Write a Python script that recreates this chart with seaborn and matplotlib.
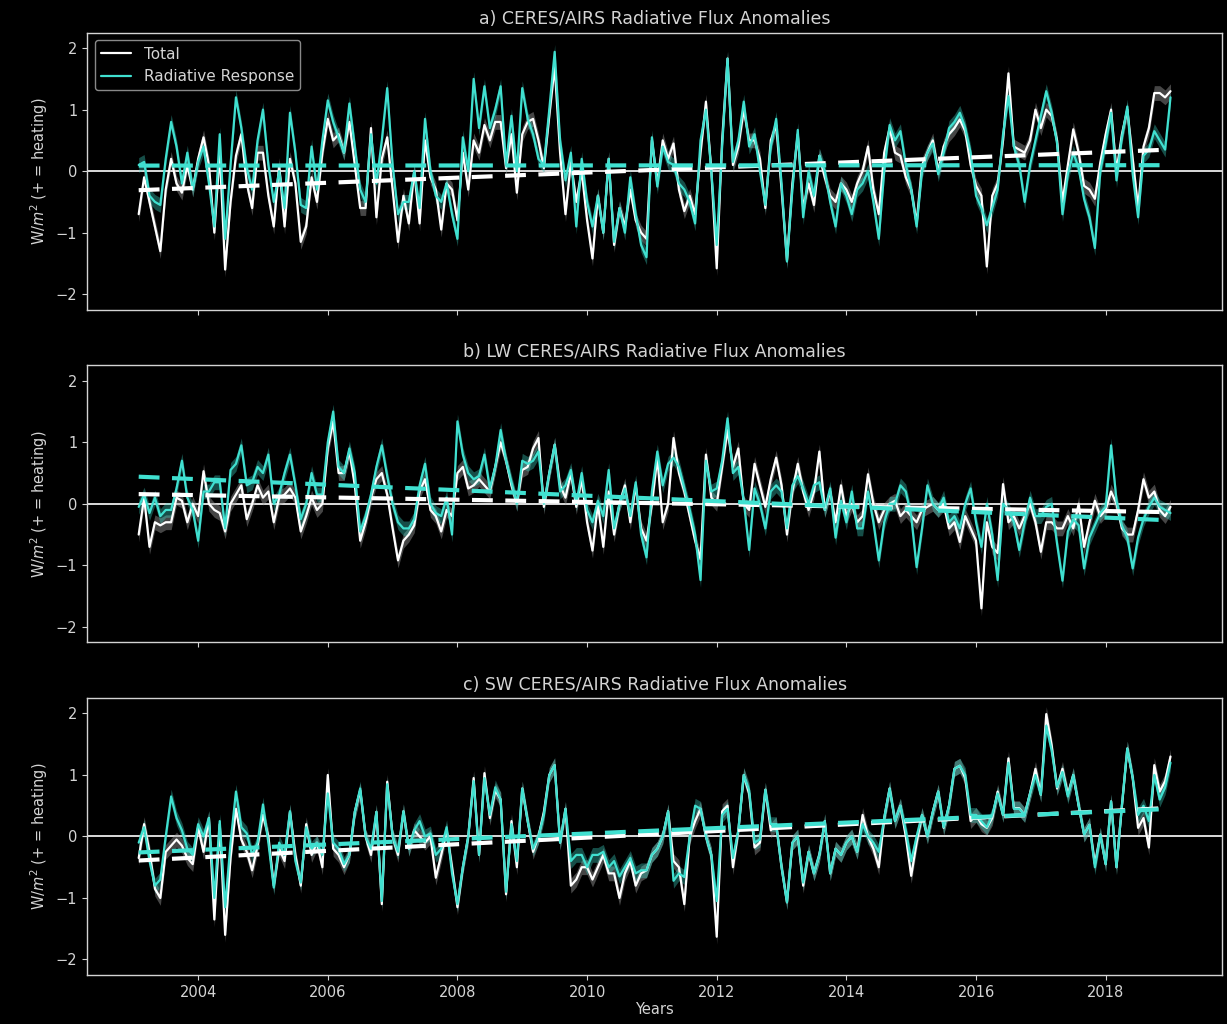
import numpy as np
import pandas as pd
import matplotlib
matplotlib.use("Agg")
import matplotlib.pyplot as plt
import seaborn as sns

# ---------------- data (monthly anomalies, Feb 2003 .. Jan 2019) ----------------
n_months = 192
start_year = 2003 + 1 / 12

titles = ["a) CERES/AIRS Radiative Flux Anomalies",
          "b) LW CERES/AIRS Radiative Flux Anomalies",
          "c) SW CERES/AIRS Radiative Flux Anomalies"]

total_a = [
    -0.7, -0.1, -0.5, -0.9, -1.3, -0.3, 0.2, -0.2, -0.35, 0.1, -0.3, 0.2,
    0.55, 0.1, -1.0, 0.3, -1.6, -0.5, 0.25, 0.6, -0.2, -0.6, 0.3, 0.3,
    -0.4, -0.9, 0.1, -0.9, 0.2, -0.2, -1.15, -0.9, -0.1, -0.5, 0.3, 0.85,
    0.5, 0.6, 0.3, 0.8, 0.1, -0.6, -0.6, 0.7, -0.75, 0.2, 0.55, -0.3,
    -1.15, -0.4, -0.85, 0.0, -0.85, 0.5, -0.1, -0.3, -0.95, -0.2, -0.3, -0.8,
    0.3, -0.3, 0.5, 0.3, 0.75, 0.5, 0.8, 0.8, 0.05, 0.6, -0.35, 0.6,
    0.8, 0.85, 0.5, 0.05, 0.9, 1.7, 0.3, -0.7, 0.15, -0.5, 0.0, -0.8,
    -1.42, -0.4, -1.0, 0.2, -1.2, -0.6, -0.9, -0.3, -0.8, -1.0, -1.1, 0.5,
    -0.2, 0.5, 0.2, 0.45, -0.3, -0.65, -0.4, -0.7, 0.3, 1.13, 0.0, -1.58,
    0.5, 1.83, 0.1, 0.4, 1.0, 0.5, 0.5, 0.2, -0.6, 0.5, 0.75, -0.3,
    -1.45, -0.2, 0.6, -0.6, -0.2, -0.55, 0.25, -0.1, -0.4, -0.5, -0.2, -0.3,
    -0.5, -0.2, 0.0, 0.4, -0.3, -0.7, 0.3, 0.7, 0.3, 0.25, -0.1, -0.3,
    -0.85, 0.1, 0.3, 0.5, 0.0, 0.4, 0.6, 0.7, 0.84, 0.65, 0.1, -0.24,
    -0.4, -1.55, -0.4, -0.2, 0.5, 1.59, 0.4, 0.35, 0.3, 0.5, 1.0, 0.7,
    1.0, 0.9, 0.5, -0.5, 0.1, 0.68, 0.3, -0.24, -0.3, -0.45, 0.14, 0.6,
    1.0, 0.0, 0.6, 1.0, 0.2, -0.6, 0.4, 0.7, 1.27, 1.27, 1.2, 1.3]

resp_a = [
    0.1, 0.15, -0.4, -0.5, -0.55, 0.2, 0.8, 0.4, -0.2, 0.3, -0.3, 0.15,
    0.4, -0.2, -0.9, 0.6, -1.1, 0.1, 1.2, 0.7, 0.05, -0.3, 0.5, 1.0,
    0.1, -0.5, 0.0, -0.6, 0.95, 0.3, -0.55, -0.6, 0.4, -0.3, 0.5, 1.15,
    0.8, 0.55, 0.3, 1.1, 0.4, -0.3, -0.5, 0.6, -0.2, 0.5, 1.35, 0.1,
    -0.7, -0.5, -0.5, 0.0, -0.6, 0.85, 0.0, -0.4, -0.5, -0.2, -0.7, -1.1,
    0.55, 0.0, 1.5, 0.7, 1.38, 0.7, 1.0, 1.38, 0.1, 0.9, 0.0, 1.35,
    0.85, 0.6, 0.2, 0.1, 1.0, 1.94, 0.5, -0.15, 0.3, -0.9, 0.2, -0.5,
    -0.9, -0.4, -1.0, 0.2, -1.15, -0.6, -1.0, -0.1, -0.7, -1.2, -1.4, 0.55,
    -0.25, 0.4, 0.15, 0.1, -0.2, -0.3, -0.5, -0.85, 0.5, 1.0, 0.0, -1.2,
    0.4, 1.83, 0.15, 0.5, 1.13, 0.4, 0.6, 0.0, -0.55, 0.4, 0.85, -0.2,
    -1.47, -0.3, 0.67, -0.75, 0.0, -0.4, 0.25, 0.0, -0.5, -0.9, -0.2, -0.4,
    -0.7, -0.3, -0.2, 0.0, -0.5, -1.1, 0.0, 0.75, 0.5, 0.65, 0.1, -0.3,
    -0.9, 0.0, 0.3, 0.45, -0.05, 0.3, 0.7, 0.8, 0.95, 0.7, 0.3, -0.4,
    -0.6, -0.88, -0.6, -0.3, 0.6, 1.22, 0.4, 0.1, -0.5, 0.1, 0.5, 0.9,
    1.3, 0.95, 0.45, -0.7, -0.05, 0.3, 0.05, -0.45, -0.75, -1.25, 0.0, 0.45,
    0.95, -0.15, 0.55, 1.05, -0.05, -0.75, 0.25, 0.35, 0.65, 0.5, 0.35, 1.2]

total_b = [
    -0.5, 0.1, -0.7, -0.3, -0.35, -0.3, -0.3, 0.1, 0.05, -0.3, 0.0, -0.2,
    0.53, 0.0, -0.1, -0.15, -0.45, 0.0, 0.15, 0.3, -0.25, 0.0, 0.3, 0.1,
    0.2, -0.3, 0.1, 0.15, 0.25, 0.1, -0.45, -0.2, 0.1, -0.1, 0.0, 0.9,
    1.34, 0.5, 0.5, 0.85, 0.3, -0.6, -0.3, 0.1, 0.4, 0.5, 0.15, -0.4,
    -0.92, -0.6, -0.5, -0.35, 0.2, 0.4, -0.1, -0.2, -0.45, -0.1, -0.2, 0.5,
    0.6, 0.25, 0.3, 0.4, 0.3, 0.2, 0.6, 1.0, 0.7, 0.3, 0.0, 0.55,
    0.6, 0.9, 1.07, -0.05, 0.5, 0.96, 0.3, 0.1, 0.5, -0.05, 0.4, -0.3,
    -0.76, 0.0, -0.7, 0.2, -0.5, 0.0, 0.3, -0.3, 0.3, -0.4, -0.6, 0.0,
    0.75, -0.3, 0.0, 1.07, 0.5, 0.2, -0.2, -0.6, -0.9, 0.8, 0.1, 0.0,
    0.6, 1.2, 0.6, 0.9, 0.0, -0.1, 0.65, 0.3, -0.05, 0.4, 0.75, 0.3,
    -0.5, 0.2, 0.65, 0.2, -0.1, 0.2, 0.85, -0.1, 0.2, -0.3, 0.3, -0.2,
    0.0, -0.3, -0.2, 0.48, 0.0, -0.3, -0.1, 0.0, 0.05, -0.2, -0.1, -0.2,
    -0.3, -0.1, -0.05, 0.0, -0.1, 0.0, -0.4, -0.3, -0.62, -0.2, -0.4, -0.6,
    -1.7, -0.3, -0.7, -0.8, 0.32, -0.3, -0.2, -0.4, -0.2, 0.0, -0.3, -0.78,
    -0.3, -0.3, -0.4, -0.4, -0.2, -0.4, 0.0, -0.7, -0.3, 0.05, -0.2, -0.1,
    0.2, 0.0, -0.4, -0.5, -0.5, -0.1, 0.4, 0.1, 0.2, -0.1, -0.2, -0.05]

resp_b = [
    -0.05, 0.15, -0.15, 0.1, -0.2, -0.1, -0.1, 0.25, 0.7, 0.1, -0.1, -0.6,
    0.2, 0.2, 0.35, 0.35, -0.4, 0.55, 0.65, 0.95, 0.3, 0.35, 0.6, 0.5,
    0.8, 0.0, 0.15, 0.5, 0.8, 0.3, -0.25, 0.0, 0.5, 0.15, 0.15, 1.0,
    1.5, 0.6, 0.5, 0.9, 0.5, -0.45, -0.2, 0.15, 0.6, 0.95, 0.45, 0.0,
    -0.3, -0.4, -0.4, -0.25, 0.3, 0.65, 0.0, -0.15, -0.2, 0.1, -0.5, 1.34,
    0.8, 0.5, 0.4, 0.45, 0.8, 0.25, 0.6, 1.2, 0.7, 0.35, 0.0, 0.7,
    0.65, 0.7, 0.85, 0.0, 0.5, 0.96, 0.2, 0.3, 0.55, 0.0, 0.5, -0.1,
    -0.3, 0.05, -0.2, 0.55, -0.4, 0.0, 0.25, -0.2, 0.35, -0.5, -0.87, 0.2,
    0.85, 0.3, 0.65, 0.75, 0.6, 0.25, -0.1, -0.5, -1.24, 0.7, 0.2, 0.25,
    0.7, 1.39, 0.5, 0.6, 0.05, -0.75, 0.25, 0.0, -0.4, 0.2, 0.3, 0.2,
    -0.4, 0.3, 0.45, 0.25, 0.0, 0.3, 0.35, -0.1, 0.25, -0.55, 0.05, -0.3,
    0.2, -0.4, -0.4, 0.2, -0.3, -0.92, -0.3, 0.0, 0.0, 0.3, 0.2, -0.2,
    -1.03, -0.4, 0.3, 0.0, -0.1, 0.1, -0.3, -0.2, -0.4, 0.0, 0.25, -0.3,
    -0.7, 0.0, -0.5, -1.24, 0.0, -0.1, -0.3, -0.75, -0.3, 0.1, -0.2, -0.2,
    -0.05, 0.0, -0.65, -1.25, -0.45, -0.25, -0.35, -1.05, -0.55, -0.35, -0.15, -0.05,
    0.95, 0.05, -0.35, -0.55, -1.05, -0.55, -0.25, -0.05, 0.1, -0.05, -0.1, -0.15]

total_c = [
    -0.35, 0.2, -0.25, -0.85, -1.0, -0.25, -0.15, -0.05, -0.15, -0.35, -0.45, 0.15,
    -0.25, 0.3, -1.35, 0.2, -1.6, -0.35, 0.45, -0.05, -0.25, -0.55, -0.15, 0.35,
    0.0, -0.8, -0.2, -0.4, 0.4, -0.3, -0.8, 0.2, -0.3, -0.1, -0.5, 1.0,
    -0.2, -0.3, -0.5, -0.3, 0.4, 0.75, 0.0, -0.3, 0.4, -1.1, 0.89, 0.0,
    -0.3, 0.41, -0.2, 0.1, 0.0, -0.1, 0.0, -0.67, -0.3, 0.1, -0.5, -1.15,
    -0.5, 0.0, 0.95, -0.3, 1.03, 0.3, 0.75, 0.6, -0.94, 0.25, -0.5, 0.78,
    0.25, -0.25, 0.0, 0.4, 1.0, 1.16, -0.1, 0.45, -0.8, -0.7, -0.5, -0.5,
    -0.7, -0.5, -0.3, -0.6, -0.6, -1.0, -0.6, -0.4, -0.8, -0.6, -0.55, -0.3,
    -0.2, 0.0, 0.41, -0.4, -0.5, -1.1, 0.0, 0.25, 0.45, 0.0, -0.3, -1.63,
    0.41, 0.5, -0.5, 0.1, 1.0, 0.7, -0.18, -0.1, 0.76, 0.1, 0.2, -0.5,
    -1.07, -0.1, 0.0, -0.8, -0.25, -0.6, -0.3, 0.25, -0.6, -0.2, -0.3, -0.1,
    0.0, -0.25, 0.35, 0.0, -0.2, -0.5, 0.3, 0.78, 0.25, 0.5, 0.0, -0.64,
    -0.1, 0.35, 0.0, 0.4, 0.73, 0.14, 0.5, 1.1, 1.15, 0.95, 0.25, 0.35,
    0.2, 0.14, 0.3, 0.73, 0.35, 1.27, 0.46, 0.46, 0.35, 0.7, 1.1, 0.68,
    1.99, 1.48, 0.78, 1.1, 0.68, 1.0, 0.5, 0.03, 0.19, -0.45, 0.03, -0.45,
    0.57, -0.5, 0.5, 1.43, 0.95, 0.14, 0.3, -0.18, 1.16, 0.73, 0.9, 1.3]

resp_c = [
    -0.1, 0.15, -0.4, -0.8, -0.7, 0.0, 0.65, 0.3, 0.1, -0.2, -0.3, 0.2,
    0.0, 0.3, -1.0, 0.25, -1.15, -0.1, 0.73, 0.15, 0.05, -0.3, -0.1, 0.52,
    -0.1, -0.83, -0.1, -0.3, 0.41, -0.4, -0.75, 0.15, -0.2, -0.1, -0.3, 0.7,
    -0.1, -0.2, -0.45, -0.3, 0.4, 0.78, 0.0, -0.2, 0.4, -1.05, 0.85, 0.0,
    -0.25, 0.41, -0.2, 0.1, 0.25, 0.0, 0.05, -0.3, -0.2, 0.15, -0.6, -1.1,
    -0.5, 0.0, 0.9, -0.3, 0.95, 0.35, 0.8, 0.6, -0.9, 0.2, -0.4, 0.78,
    0.25, -0.2, 0.0, 0.35, 1.0, 1.16, -0.1, 0.45, -0.4, -0.3, -0.3, -0.5,
    -0.3, -0.3, -0.25, -0.5, -0.4, -0.65, -0.5, -0.35, -0.6, -0.55, -0.55, -0.3,
    -0.2, 0.0, 0.41, -0.72, -0.6, -0.66, 0.0, 0.5, 0.45, 0.0, -0.3, -1.05,
    0.35, 0.45, -0.35, 0.1, 1.0, 0.75, -0.1, -0.05, 0.76, 0.2, 0.2, -0.5,
    -1.07, -0.1, 0.0, -0.75, -0.25, -0.6, -0.3, 0.25, -0.6, -0.2, -0.3, -0.1,
    0.0, -0.25, 0.2, 0.0, -0.1, -0.25, 0.3, 0.78, 0.25, 0.5, 0.1, -0.4,
    0.0, 0.35, 0.0, 0.4, 0.73, 0.15, 0.5, 1.1, 1.15, 1.0, 0.35, 0.35,
    0.25, 0.15, 0.35, 0.7, 0.35, 1.2, 0.45, 0.45, 0.35, 0.7, 1.0, 0.68,
    1.8, 1.4, 0.8, 1.05, 0.65, 1.0, 0.5, 0.03, 0.19, -0.5, 0.03, -0.45,
    0.57, -0.5, 0.5, 1.43, 0.95, 0.35, 0.5, 0.25, 1.0, 0.6, 0.8, 1.2]

total_unc = 0.12   # half-width of shaded uncertainty band (W/m^2)
resp_unc = 0.12

series = [(total_a, resp_a), (total_b, resp_b), (total_c, resp_c)]

# ---------------- style ----------------
sns.set_theme(style="dark")
fg = "#d4d4d4"
plt.rcParams.update({
    "figure.facecolor": "black", "axes.facecolor": "black",
    "axes.edgecolor": fg, "axes.labelcolor": fg, "text.color": fg,
    "xtick.color": fg, "ytick.color": fg, "axes.grid": False,
    "xtick.bottom": True, "ytick.left": True,
    "xtick.major.size": 3.5, "ytick.major.size": 3.5,
    "xtick.major.width": 0.8, "ytick.major.width": 0.8,
    "axes.linewidth": 1.0, "font.size": 10,
})
plt.rcParams["font.family"] = ["DejaVu Sans"]

white = "#ffffff"
cyan = "#40e0d0"

years = start_year + np.arange(n_months) / 12

fig, axes = plt.subplots(3, 1, figsize=(12.27, 10.24), dpi=100, sharex=True, sharey=True)
fig.subplots_adjust(left=0.071, right=0.996, top=0.968, bottom=0.048, hspace=0.202)

for ax, title, (tot, resp) in zip(axes, titles, series):
    df = pd.DataFrame({"year": years, "Total": tot, "Radiative Response": resp})
    tot_arr = np.asarray(tot)
    resp_arr = np.asarray(resp)
    ax.axhline(0, color=white, lw=1.2, zorder=1)
    ax.fill_between(years, tot_arr - total_unc, tot_arr + total_unc,
                    color="#9a9a9a", alpha=0.45, lw=0, zorder=2)
    ax.fill_between(years, resp_arr - resp_unc, resp_arr + resp_unc,
                    color=cyan, alpha=0.35, lw=0, zorder=3)
    sns.lineplot(data=df, x="year", y="Total", ax=ax, color=white, lw=1.6,
                 label="Total", zorder=4)
    sns.lineplot(data=df, x="year", y="Radiative Response", ax=ax, color=cyan,
                 lw=1.6, label="Radiative Response", zorder=5)
    sns.regplot(data=df, x="year", y="Total", ax=ax, scatter=False, ci=None,
                truncate=True, line_kws=dict(color=white, lw=3, ls=(0, (5, 3)), zorder=6))
    sns.regplot(data=df, x="year", y="Radiative Response", ax=ax, scatter=False,
                ci=None, truncate=True,
                line_kws=dict(color=cyan, lw=3, ls=(0, (5, 3)), zorder=6))
    ax.set_title(title, color=fg, fontsize=12.5, pad=6)
    ax.set_ylabel(r"W/$m^2$ (+ = heating)", fontsize=10.5)
    ax.set_xlabel("")
    ax.set_ylim(-2.25, 2.25)
    ax.set_yticks([-2, -1, 0, 1, 2])
    ax.set_xticks(np.arange(2004, 2019, 2))
    for s in ax.spines.values():
        s.set_color(fg)
    if ax is axes[0]:
        leg = ax.legend(loc="upper left", facecolor="black", edgecolor="#888888",
                        fontsize=11, framealpha=1.0, handlelength=2.0)
        for txt in leg.get_texts():
            txt.set_color(fg)
    elif ax.get_legend() is not None:
        ax.get_legend().remove()

axes[-1].set_xlabel("Years", fontsize=10.5, labelpad=2)
axes[-1].tick_params(axis="x", labelsize=10.5)
for ax in axes:
    ax.tick_params(axis="y", labelsize=10.5)

fig.savefig("out.png", dpi=100, facecolor="black")
